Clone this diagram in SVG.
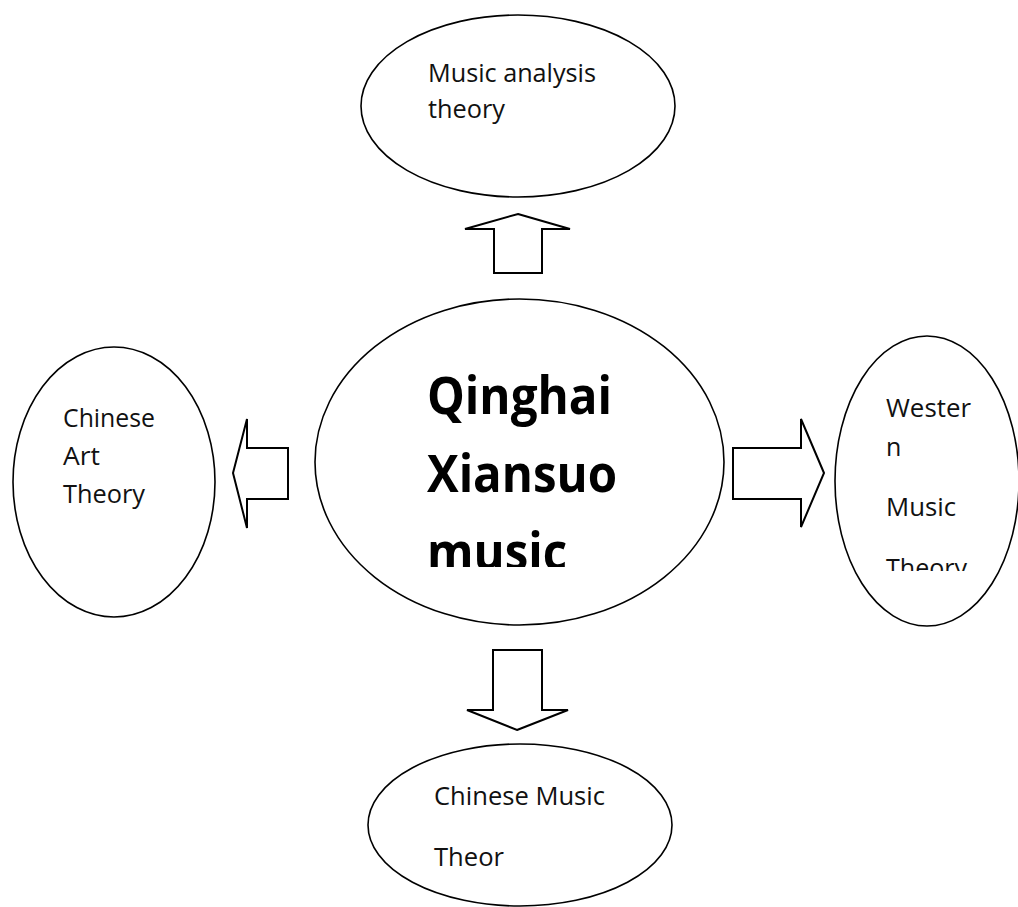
<svg xmlns="http://www.w3.org/2000/svg" width="1018" height="907" viewBox="0 0 1018 907">
<style>
.shape{fill:#fff;stroke:#000;stroke-width:1.6}
.arrow{fill:#fff;stroke:#000;stroke-width:2;stroke-linejoin:miter}
.t{font-family:"Open Sans","Noto Sans",sans-serif;font-size:25px;fill:#111}
.big{font-family:"Open Sans","Noto Sans",sans-serif;font-size:52px;font-weight:bold;fill:#000}
</style>
<defs>
<clipPath id="clipC"><rect x="300" y="290" width="440" height="277"/></clipPath>
<clipPath id="clipW"><rect x="840" y="330" width="180" height="241"/></clipPath>
</defs>
<rect width="1018" height="907" fill="#fff"/>
<g id="connectors">
<polygon class="arrow" points="518,214 570,229 542,229 542,273 494,273 494,229 465,229"/>
<polygon class="arrow" points="233,473 247,419 247,448 288,448 288,499 247,499 247,528"/>
<polygon class="arrow" points="824,473 801,419 801,448 733,448 733,499 801,499 801,527"/>
<polygon class="arrow" points="517,730 568,710 542,710 542,650 493,650 493,710 467,710"/>
</g>
<g id="node-top">
<ellipse class="shape" cx="518" cy="106" rx="157" ry="91"/>
<text class="t" x="428" y="82" textLength="168" lengthAdjust="spacingAndGlyphs">Music analysis</text>
<text class="t" x="428" y="118" textLength="77" lengthAdjust="spacingAndGlyphs">theory</text>
</g>
<g id="node-center">
<ellipse class="shape" cx="519.5" cy="462" rx="204.5" ry="163"/>
<text class="big" x="427" y="414" textLength="185" lengthAdjust="spacingAndGlyphs">Qinghai</text>
<text class="big" x="427" y="492" textLength="190" lengthAdjust="spacingAndGlyphs">Xiansuo</text>
<g clip-path="url(#clipC)"><text class="big" x="427" y="570" textLength="140" lengthAdjust="spacingAndGlyphs">music</text></g>
</g>
<g id="node-left">
<ellipse class="shape" cx="114" cy="482" rx="101" ry="135"/>
<text class="t" x="63" y="427" textLength="92" lengthAdjust="spacingAndGlyphs">Chinese</text>
<text class="t" x="63" y="465" textLength="37" lengthAdjust="spacingAndGlyphs">Art</text>
<text class="t" x="63" y="503" textLength="82" lengthAdjust="spacingAndGlyphs">Theory</text>
</g>
<g id="node-right">
<ellipse class="shape" cx="927" cy="481" rx="92" ry="145"/>
<text class="t" x="886" y="417" textLength="85" lengthAdjust="spacingAndGlyphs">Wester</text>
<text class="t" x="886" y="456">n</text>
<text class="t" x="886" y="516" textLength="70" lengthAdjust="spacingAndGlyphs">Music</text>
<g clip-path="url(#clipW)"><text class="t" x="886" y="577" textLength="81" lengthAdjust="spacingAndGlyphs">Theory</text></g>
</g>
<g id="node-bottom">
<ellipse class="shape" cx="520" cy="825" rx="152" ry="81"/>
<text class="t" x="434" y="805" textLength="171" lengthAdjust="spacingAndGlyphs">Chinese Music</text>
<text class="t" x="434" y="866" textLength="70" lengthAdjust="spacingAndGlyphs">Theor</text>
</g>
</svg>
